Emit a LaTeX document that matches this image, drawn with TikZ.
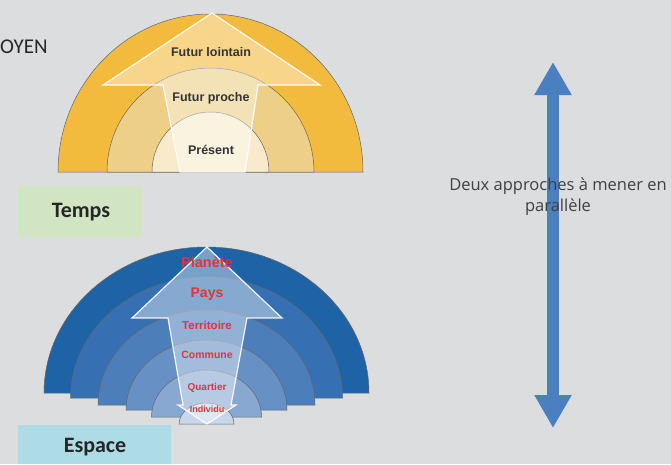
\documentclass[tikz,border=0pt]{standalone}
\usepackage{fontspec}
\setmainfont{Carlito}
\newfontfamily\labfont{Liberation Sans}
\newfontfamily\notefont{Open Sans}
\usetikzlibrary{arrows.meta,calc}
\definecolor{bg}{HTML}{DCDDDF}
\definecolor{y1}{HTML}{F2BB3E}
\definecolor{y2}{HTML}{EDCF88}
\definecolor{y3}{HTML}{F7EBCC}
\definecolor{b1}{HTML}{1E63A6}
\definecolor{b2}{HTML}{3670B2}
\definecolor{b3}{HTML}{4C7EBA}
\definecolor{b4}{HTML}{6790C4}
\definecolor{b5}{HTML}{88A8D2}
\definecolor{b6}{HTML}{C8D6EA}
\definecolor{redlbl}{HTML}{DD3636}
\definecolor{arrblue}{HTML}{4A7FC0}
\definecolor{tempsbox}{HTML}{D2E5C3}
\definecolor{espacebox}{HTML}{AEDCE6}

\begin{document}
\begin{tikzpicture}[x=1pt, y=-1pt,
		ring/.style = {draw=black!60, line width=.5pt},
		overlay arrow/.style = {fill=white, fill opacity=.4, draw=white, draw opacity=.9, line width=1.2pt},
		tlbl/.style = {font=\labfont\bfseries\fontsize{12.5}{13}\selectfont, text=black!80},
		slbl/.style = {text=redlbl, inner sep=0pt},
		tag/.style = {font=\bfseries\fontsize{22}{24}\selectfont, text=black!85}]
		\fill[bg] (0,0) rectangle (671,464);
		\useasboundingbox (0,0) rectangle (671,464);
		% temps
		\foreach \rx/\ry/\col in {152.5/158/y1, 103.5/104/y2, 58.5/60/y3}
			\path[ring, fill=\col] ({210.5-\rx},172) arc[start angle=180, end angle=360, x radius=\rx, y radius=\ry] -- cycle;
		\path[overlay arrow] (212,13) -- (320,85) -- (258,85) -- (245,172) -- (180,172) -- (163,85) -- (103,85) -- cycle;
		\node[tlbl] (fl) at (211,52) {Futur lointain};
		\node[tlbl] (fp) at (211,98) {Futur proche};
		\node[tlbl] (pr) at (211,150) {Présent};
		% espace
		\foreach \rx/\ry/\by/\col in {162.5/146/393/b1, 136/121/398/b2, 108.5/95/405/b3, 80.5/70/410/b4, 55/47/417/b5, 27.5/21/424/b6}
			\path[ring, fill=\col] ({206.5-\rx},\by) arc[start angle=180, end angle=360, x radius=\rx, y radius=\ry] -- cycle;
		\path[overlay arrow] (207,247) -- (282,318) -- (247,318) -- (231,405) -- (236,405) -- (207,424)
			-- (178,405) -- (183,405) -- (168,318) -- (132,318) -- cycle;
		\node[slbl, font=\labfont\bfseries\fontsize{14.5}{16}\selectfont] (pl) at (207,262) {Planète};
		\node[slbl, font=\labfont\bfseries\fontsize{14}{15}\selectfont] (pa) at (207,294) {Pays};
		\node[slbl, font=\labfont\bfseries\fontsize{11.5}{12}\selectfont] (te) at (207,325) {Territoire};
		\node[slbl, font=\labfont\bfseries\fontsize{10.5}{11}\selectfont] (co) at (207,355) {Commune};
		\node[slbl, font=\labfont\bfseries\fontsize{10}{11}\selectfont] (qu) at (207,388) {Quartier};
		\node[slbl, font=\labfont\bfseries\fontsize{9}{10}\selectfont] (in) at (207,409) {Individu};
		% boxes
		\fill[tempsbox] (18,186) rectangle (142,237);
		\node[tag] (temps) at (81,212) {Temps};
		\fill[espacebox] (18,425) rectangle (171,464);
		\node[tag] (espace) at (95,447) {Espace};
		\node[tag, font=\fontsize{21}{23}\selectfont, anchor=west, inner sep=0pt] (oyen) at (0,47) {OYEN};
		% double arrow
		\coordinate (hi) at (553,62);
		\coordinate (lo) at (553,428);
		\draw[arrblue, line width=12pt, {Triangle[width=35pt,length=33pt]}-{Triangle[width=35pt,length=33pt]}] (hi) -- (lo);
		\node[align=center, font=\notefont\fontsize{16.5}{21}\selectfont, text=black!75] (note) at (558,197) {Deux approches à mener en\\parallèle};
	\end{tikzpicture}
\end{document}
